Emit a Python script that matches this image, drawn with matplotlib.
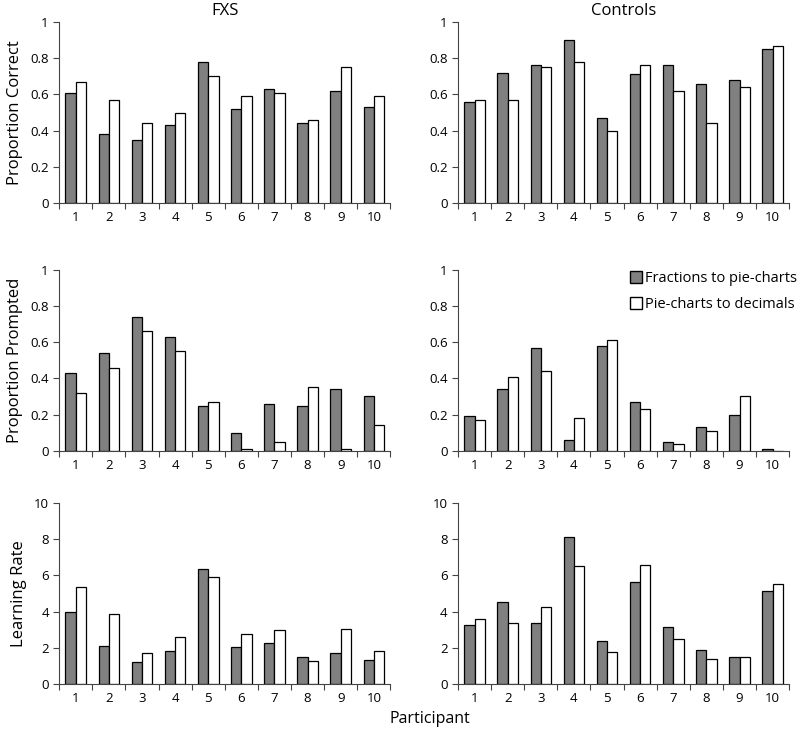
import numpy as np
import matplotlib.pyplot as plt
from matplotlib.lines import Line2D

plt.rcParams['font.family'] = ['Open Sans', 'DejaVu Sans']

participants = list(range(1, 11))

# Proportion correct
fxs_correct_frac = [0.61, 0.38, 0.35, 0.43, 0.78, 0.52, 0.63, 0.44, 0.62, 0.53]
fxs_correct_pie = [0.67, 0.57, 0.44, 0.50, 0.70, 0.59, 0.61, 0.46, 0.75, 0.59]
ctl_correct_frac = [0.56, 0.72, 0.76, 0.90, 0.47, 0.71, 0.76, 0.66, 0.68, 0.85]
ctl_correct_pie = [0.57, 0.57, 0.75, 0.78, 0.40, 0.76, 0.62, 0.44, 0.64, 0.87]

# Proportion prompted
fxs_prompt_frac = [0.43, 0.54, 0.74, 0.63, 0.25, 0.10, 0.26, 0.25, 0.34, 0.30]
fxs_prompt_pie = [0.32, 0.46, 0.66, 0.55, 0.27, 0.01, 0.05, 0.35, 0.01, 0.14]
ctl_prompt_frac = [0.19, 0.34, 0.57, 0.06, 0.58, 0.27, 0.05, 0.13, 0.20, 0.01]
ctl_prompt_pie = [0.17, 0.41, 0.44, 0.18, 0.61, 0.23, 0.04, 0.11, 0.30, 0.0]

# Learning rate
fxs_rate_frac = [4.0, 2.1, 1.2, 1.8, 6.35, 2.05, 2.25, 1.5, 1.7, 1.3]
fxs_rate_pie = [5.35, 3.85, 1.7, 2.6, 5.9, 2.75, 3.0, 1.25, 3.05, 1.8]
ctl_rate_frac = [3.25, 4.55, 3.35, 8.1, 2.35, 5.65, 3.15, 1.9, 1.5, 5.15]
ctl_rate_pie = [3.6, 3.35, 4.25, 6.5, 1.75, 6.55, 2.5, 1.4, 1.5, 5.55]

rows = [
    ('Proportion Correct', [0, 0.2, 0.4, 0.6, 0.8, 1], ['0', '0.2', '0.4', '0.6', '0.8', '1'],
     (fxs_correct_frac, fxs_correct_pie), (ctl_correct_frac, ctl_correct_pie)),
    ('Proportion Prompted', [0, 0.2, 0.4, 0.6, 0.8, 1], ['0', '0.2', '0.4', '0.6', '0.8', '1'],
     (fxs_prompt_frac, fxs_prompt_pie), (ctl_prompt_frac, ctl_prompt_pie)),
    ('Learning Rate', [0, 2, 4, 6, 8, 10], ['0', '2', '4', '6', '8', '10'],
     (fxs_rate_frac, fxs_rate_pie), (ctl_rate_frac, ctl_rate_pie)),
]

fig = plt.figure(figsize=(8, 7.33), dpi=100)

lefts = [0.074, 0.5725]
bottoms = [0.723, 0.385, 0.0668]
w, h = 0.414, 0.247
x = np.array(participants)
bw = 0.31

for r, (ylab, yt, ytl, fxs, ctl) in enumerate(rows):
    for c, data in enumerate([fxs, ctl]):
        ax = fig.add_axes([lefts[c], bottoms[r], w, h])
        ax.bar(x - bw / 2, data[0], bw, color='#808080', edgecolor='black', linewidth=0.9)
        ax.bar(x + bw / 2, data[1], bw, color='white', edgecolor='black', linewidth=0.9)
        ax.set_xlim(0.5, 10.5)
        ax.set_ylim(0, yt[-1])
        ax.set_yticks(yt)
        ax.set_yticklabels(ytl, fontsize=9.5)
        ax.set_xticks(np.arange(0.5, 11, 1))
        ax.set_xticklabels([])
        ax.set_xticks(x, minor=True)
        ax.set_xticklabels([str(p) for p in participants], minor=True, fontsize=9.5)
        ax.tick_params(axis='x', which='minor', length=0, pad=6)
        ax.tick_params(axis='x', which='major', length=4, direction='out', color='#444444')
        ax.tick_params(axis='y', length=4, direction='out', color='#444444')
        for s in ['top', 'right']:
            ax.spines[s].set_visible(False)
        for s in ['left', 'bottom']:
            ax.spines[s].set_color('#444444')
        if c == 0:
            ax.set_ylabel(ylab, fontsize=12, labelpad=5)
        if r == 0:
            ax.set_title('FXS' if c == 0 else 'Controls', fontsize=12, pad=5)
        if r == 1 and c == 1:
            handles = [
                Line2D([], [], marker='s', linestyle='none', markersize=9,
                       markerfacecolor='#808080', markeredgecolor='black'),
                Line2D([], [], marker='s', linestyle='none', markersize=9,
                       markerfacecolor='white', markeredgecolor='black'),
            ]
            ax.legend(handles, ['Fractions to pie-charts', 'Pie-charts to decimals'],
                      loc='upper right', bbox_to_anchor=(1.05, 1.04), frameon=False,
                      fontsize=10.5, handletextpad=0.05, labelspacing=0.75,
                      borderaxespad=0.2, handlelength=1.2)

fig.text(0.5375, 0.008, 'Participant', ha='center', va='bottom', fontsize=11.5)

fig.savefig('out.png', dpi=100)
